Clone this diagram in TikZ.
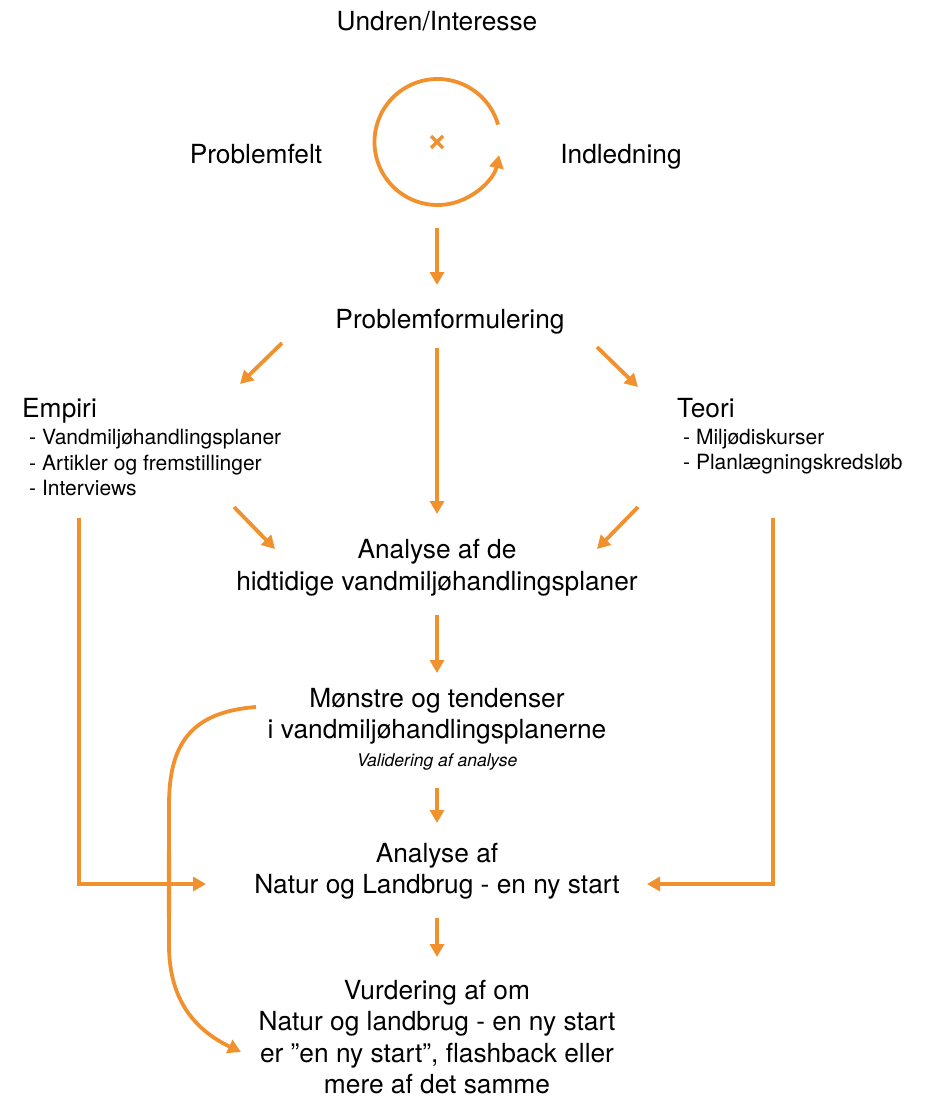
\documentclass[tikz,border=0pt]{standalone}
\usepackage{fontspec}
\setmainfont{TeX Gyre Heros}
\usetikzlibrary{arrows.meta}
\definecolor{org}{RGB}{241,145,46}
\begin{document}
\begin{tikzpicture}[x=1pt,y=-1pt,
  conn/.style={draw=org, line width=3.8pt, -{Triangle[length=13pt,width=14pt]}},
  big/.style={font=\fontsize{26.3}{31.3}\selectfont, inner sep=0pt, anchor=base, align=center},
  small/.style={font=\fontsize{21}{25.5}\selectfont, inner sep=0pt, anchor=base west, align=left},
  tiny/.style={font=\fontsize{17.5}{21}\selectfont\itshape, inner sep=0pt, anchor=base},
]
\useasboundingbox (0,0) rectangle (926,1097);

% texts (multi-line nodes: base = last line's baseline)
\node[big] (undren) at (437,31) {Undren/Interesse};
\node[big] (pfelt) at (256,163) {Problemfelt};
\node[big] (indl) at (621,163) {Indledning};
\node[big] (pform) at (450,328) {Problemformulering};
\node[big, anchor=base west] (empiri) at (22,417) {Empiri};
\node[small] (emplist) at (29,495.5) {- Vandmiljøhandlingsplaner\\- Artikler og fremstillinger\\- Interviews};
\node[big, anchor=base west] (teori) at (677,417) {Teori};
\node[small] (teolist) at (683,469.5) {- Miljødiskurser\\- Planlægningskredsløb};
\node[big] (ana1) at (437,590) {Analyse af de\\hidtidige vandmiljøhandlingsplaner};
\node[big] (moen) at (437,738.5) {Mønstre og tendenser\\i vandmiljøhandlingsplanerne};
\node[tiny] (valid) at (437,766) {Validering af analyse};
\node[big] (ana2) at (437,893.5) {Analyse af\\Natur og Landbrug - en ny start};
\node[big] (vurd) at (437,1093.5) {Vurdering af om\\Natur og landbrug - en ny start\\er ”en ny start”, flashback eller\\mere af det samme};

% circle with cross
\coordinate (cc) at (437.5,142);
\draw[draw=org, line width=3.8pt, -{Triangle[length=13pt,width=14pt]}]
  (cc) ++(16:63pt) arc[start angle=16, end angle=348, radius=63pt];
\draw[org, line width=3.5pt] (431,136) -- (443,148) (443,136) -- (431,148);

% connector coordinates
\coordinate (c1s) at (437,228);  \coordinate (c1e) at (437,285);
\coordinate (l1s) at (282,343);  \coordinate (l1e) at (240,384);
\coordinate (m1s) at (437,348);  \coordinate (m1e) at (437,514);
\coordinate (r1s) at (597,347);  \coordinate (r1e) at (638,387);
\coordinate (l2s) at (234,507);  \coordinate (l2e) at (275,549);
\coordinate (r2s) at (638,507);  \coordinate (r2e) at (597,549);
\coordinate (m2s) at (437,615);  \coordinate (m2e) at (437,673);
\coordinate (m3s) at (437,788);  \coordinate (m3e) at (437,823);
\coordinate (m4s) at (437,918);  \coordinate (m4e) at (437,957);
\coordinate (lls) at (79,518);   \coordinate (lle) at (206,884);
\coordinate (rrs) at (773,518);  \coordinate (rre) at (647,884);
\coordinate (cvs) at (256,707);  \coordinate (cve) at (241,1052);

\draw[conn] (c1s) -- (c1e);
\draw[conn] (l1s) -- (l1e);
\draw[conn] (m1s) -- (m1e);
\draw[conn] (r1s) -- (r1e);
\draw[conn] (l2s) -- (l2e);
\draw[conn] (r2s) -- (r2e);
\draw[conn] (m2s) -- (m2e);
\draw[conn] (m3s) -- (m3e);
\draw[conn] (m4s) -- (m4e);

% feedback curve, fading to white where it crosses the left line
\draw[conn] (cvs) .. controls (190,712) and (169,745) .. (169,805)
  -- (169,945) .. controls (169,1000) and (195,1030) .. (cve);
\shade[top color=org, middle color=white, bottom color=org]
  (166.9,852) rectangle (171.1,916);

% side lines
\draw[conn] (lls) |- (lle);
\draw[conn] (rrs) |- (rre);
\end{tikzpicture}
\end{document}
